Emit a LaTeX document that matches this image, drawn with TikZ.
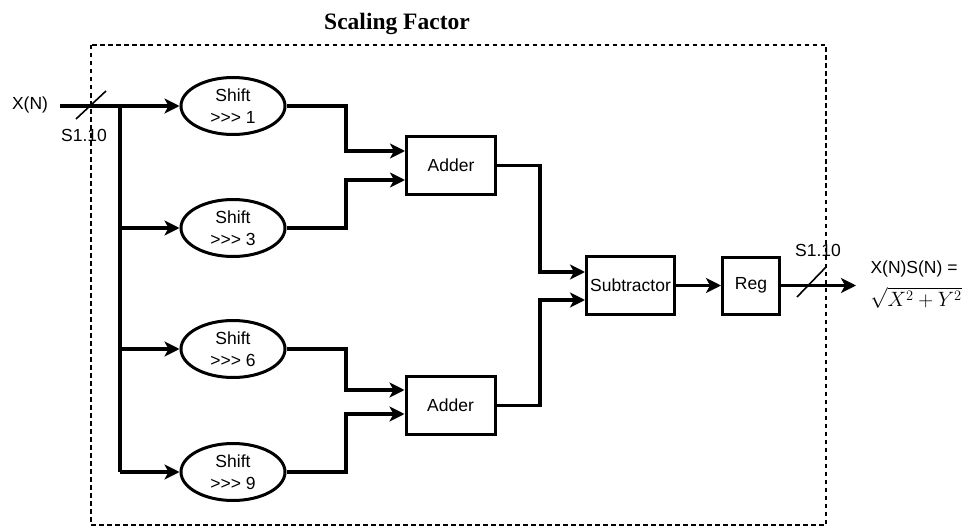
\documentclass[tikz,border=0pt]{standalone}
\usepackage{fontspec}
\setmainfont{Liberation Sans}
\newfontfamily\titlefont{Liberation Serif}
\usetikzlibrary{shapes.geometric,arrows.meta,calc}
\begin{document}
\begin{tikzpicture}[x=1pt,y=-1pt,
  every node/.style={font=\fontsize{17.5}{22}\selectfont},
  wire/.style={line width=3.3pt},
  arr/.style={wire,-{Stealth[length=15pt,width=15pt,inset=4pt]}},
  shiftbox/.style={ellipse,draw,line width=3pt,minimum width=104pt,minimum height=57pt,inner sep=0pt,align=center},
  opbox/.style={rectangle,draw,line width=3pt,minimum height=58pt,inner sep=0pt},
  slash/.style={line width=1.6pt},
  lbl/.style={inner sep=0pt}]
\useasboundingbox (0,0) rectangle (975,527);
\draw[line width=1.5pt,dash pattern=on 4.5pt off 3.5pt] (91,45) rectangle (826,525);
\node[lbl,font=\titlefont\bfseries\fontsize{23.5}{26}\selectfont] (title) at (397,24) {Scaling Factor};

\node[lbl] (xin) at (30,105) {X(N)};
\coordinate (inStart) at (60,106);
\coordinate (busTop) at (120,106);
\coordinate (busBot) at (120,472);
\coordinate (jx1) at (346,0);
\coordinate (jx2) at (540,0);

\node[shiftbox] (e1) at (233,106) {Shift\\>\kern0pt>\kern0pt> 1};
\node[shiftbox] (e2) at (233,228) {Shift\\>\kern0pt>\kern0pt> 3};
\node[shiftbox] (e3) at (233,349) {Shift\\>\kern0pt>\kern0pt> 6};
\node[shiftbox] (e4) at (233,472) {Shift\\>\kern0pt>\kern0pt> 9};

\node[opbox,minimum width=89pt] (a1) at (451,165.5) {Adder};
\node[opbox,minimum width=89pt] (a2) at (450.5,405.5) {Adder};
\node[opbox,minimum width=88pt] (sub) at (630.5,285.5) {Subtractor};
\node[opbox,minimum width=57pt,minimum height=57pt] (reg) at (751,285.5) {Reg};

\node[lbl] (outTop) at (914,269) {X(N)S(N) =};
\node[lbl,font=\fontsize{22}{26}\selectfont] (outBot) at (916,298) {$\sqrt{X^2+Y^2}$};
\coordinate (outEnd) at (856,285.5);

% input and bus
\draw[arr] (inStart) -- (e1.west);
\draw[wire] (busTop) -- (busBot);
\draw[arr] (busTop |- e2) -- (e2.west);
\draw[arr] (busTop |- e3) -- (e3.west);
\draw[arr] (busBot) -- (e4.west);

% shifts to adders
\draw[arr] (e1.east) -- (e1.east -| jx1) |- ([yshift=14.5pt]a1.west);
\draw[arr] (e2.east) -- (e2.east -| jx1) |- ([yshift=-14.5pt]a1.west);
\draw[arr] (e3.east) -- (e3.east -| jx1) |- ([yshift=15.5pt]a2.west);
\draw[arr] (e4.east) -- (e4.east -| jx1) |- ([yshift=-8.5pt]a2.west);

% adders to subtractor
\draw[arr] (a1.east) -- (a1.east -| jx2) |- ([yshift=13.5pt]sub.west);
\draw[arr] (a2.east) -- (a2.east -| jx2) |- ([yshift=-14.5pt]sub.west);

\draw[arr] (sub.east) -- (reg.west);
\draw[arr] (reg.east) -- (outEnd);

% bus width marks
\coordinate (s1a) at (76,119);
\coordinate (s1b) at (106,91);
\draw[slash] (s1a) -- (s1b);
\node[lbl] (w1) at (84,135) {S1.10};
\coordinate (s2a) at (797,297);
\coordinate (s2b) at (826,267);
\draw[slash] (s2a) -- (s2b);
\node[lbl] (w2) at (818,250) {S1.10};
\end{tikzpicture}
\end{document}
